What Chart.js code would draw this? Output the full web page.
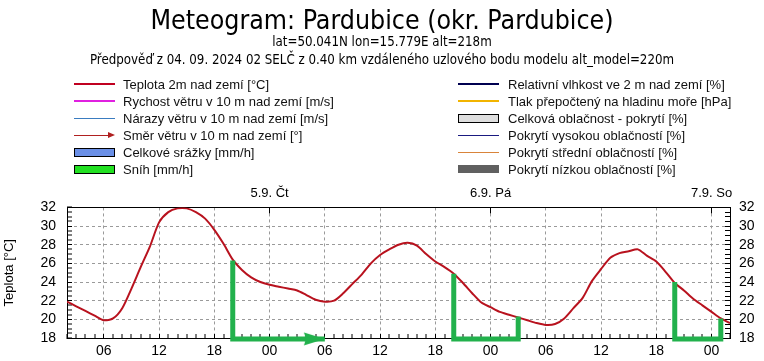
<!DOCTYPE html>
<html><head><meta charset="utf-8">
<script src="https://cdn.jsdelivr.net/npm/chart.js@4/dist/chart.umd.min.js"></script>
<style>
html,body{margin:0;padding:0;background:#fff;}
#wrap{position:relative;width:764px;height:361px;overflow:hidden;background:#fff;}
#c{position:absolute;left:0;top:0;}
.leg{position:absolute;font:13px 'Liberation Sans',Arial,sans-serif;color:#111;white-space:nowrap;height:17px;line-height:17px;}
.leg .s{position:absolute;left:0;top:0;width:41px;height:17px;}
.leg .t{position:absolute;top:0;}
</style></head>
<body><div id="wrap"><canvas id="c" width="764" height="361"></canvas><div id="legend"></div></div>
<script>
// ---- data ----
const startHour = 2; // first sample: 4.9. 02:00
const temperature = [
  21.9, 21.4, 20.9, 20.4, 19.9, 20.1, 21.2, 23.3, 25.6, 27.8,
  30.4, 31.5, 31.9, 31.9, 31.5, 30.8, 29.6, 28.1, 26.4, 25.3,
  24.5, 24.0, 23.7, 23.5, 23.3, 23.1, 22.6, 22.1, 21.9, 22.0,
  22.8, 23.8, 24.8, 26.0, 26.9, 27.5, 28.0, 28.2, 27.9, 27.0,
  26.2, 25.6, 24.9, 23.9, 22.8, 21.8, 21.3, 20.8, 20.5, 20.2,
  19.9, 19.6, 19.4, 19.5, 20.1, 21.2, 22.3, 24.1, 25.4, 26.6,
  27.1, 27.3, 27.5, 26.8, 26.2, 25.1, 23.9, 23.1, 22.2, 21.5,
  20.8, 20.1, 19.6
];
const dayLabels = ['5.9. Čt', '6.9. Pá', '7.9. So'];
const dayStartIndex = [22, 46, 70];
const yMin = 18, yMax = 32;
const yAxisTitle = 'Teplota [°C]';
const titleText = 'Meteogram: Pardubice (okr. Pardubice)';
const subtitleLines = ['lat=50.041N lon=15.779E alt=218m',
  'Předpověď z 04. 09. 2024 02 SELČ z 0.40 km vzdáleného uzlového bodu modelu alt_model=220m'];
// green hand-drawn marks (hour index, temperature)
const markArrow = [{x:18, y:26.3}, {x:18, y:17.9}, {x:28, y:17.9}];
const markBracket1 = [{x:42, y:24.9}, {x:42, y:17.9}, {x:49, y:17.9}, {x:49, y:20.3}];
const markBracket2 = [{x:66, y:24.0}, {x:66, y:17.9}, {x:71, y:17.9}, {x:71, y:20.1}];
const legendLeft = [
  {text:'Teplota 2m nad zemí [°C]', kind:'line', color:'#c00020', w:2.5},
  {text:'Rychost větru v 10 m nad zemí [m/s]', kind:'line', color:'#e020e0', w:2.5},
  {text:'Nárazy větru v 10 m nad zemí [m/s]', kind:'line', color:'#3a7cc0', w:1},
  {text:'Směr větru v 10 m nad zemí [°]', kind:'arrow', color:'#b02020', w:1},
  {text:'Celkové srážky [mm/h]', kind:'box', color:'#6a8fe6', border:'#000'},
  {text:'Sníh [mm/h]', kind:'box', color:'#22e022', border:'#000'}
];
const legendRight = [
  {text:'Relativní vlhkost ve 2 m nad zemí [%]', kind:'line', color:'#000050', w:2.5},
  {text:'Tlak přepočtený na hladinu moře [hPa]', kind:'line', color:'#f2b400', w:2.5},
  {text:'Celková oblačnost - pokrytí [%]', kind:'box', color:'#dedede', border:'#000'},
  {text:'Pokrytí vysokou oblačností [%]', kind:'line', color:'#1a1a80', w:1},
  {text:'Pokrytí střední oblačností [%]', kind:'line', color:'#d9843a', w:1},
  {text:'Pokrytí nízkou oblačností [%]', kind:'box', color:'#606060', border:null}
];

// ---- legend (HTML) ----
function buildLegend(items, x0, textX, y0, dy) {
  const root = document.getElementById('legend');
  items.forEach((it, i) => {
    const d = document.createElement('div');
    d.className = 'leg';
    d.style.left = x0 + 'px';
    d.style.top = (y0 + i * dy - 8.5) + 'px';
    const s = document.createElement('div');
    s.className = 's';
    const m = document.createElement('div');
    m.style.position = 'absolute';
    m.style.left = '0px';
    m.style.width = '41px';
    if (it.kind === 'line' || it.kind === 'arrow') {
      m.style.height = it.w + 'px';
      m.style.top = (8.5 - it.w / 2) + 'px';
      m.style.background = it.color;
      if (it.kind === 'arrow') {
        m.style.width = '36px';
        const h = document.createElement('div');
        h.style.cssText = 'position:absolute;left:34px;top:5.5px;width:0;height:0;border-top:3px solid transparent;border-bottom:3px solid transparent;border-left:7px solid ' + it.color + ';';
        s.appendChild(h);
      }
    } else {
      const bh = it.border ? 7 : 8;
      m.style.height = bh + 'px';
      m.style.top = (8.5 - bh / 2 - (it.border ? 1 : 0)) + 'px';
      m.style.background = it.color;
      if (it.border) { m.style.border = '1px solid ' + it.border; m.style.width = '39px'; }
    }
    s.appendChild(m);
    const t = document.createElement('span');
    t.className = 't';
    t.style.left = (textX - x0) + 'px';
    t.textContent = it.text;
    d.appendChild(s);
    d.appendChild(t);
    root.appendChild(d);
  });
}
buildLegend(legendLeft, 74, 123, 84, 17);
buildLegend(legendRight, 458, 508, 84, 17);

// ---- arrow head point style ----
function arrowHead(color) {
  const c = document.createElement('canvas');
  c.width = 48; c.height = 16;
  const g = c.getContext('2d');
  g.fillStyle = color;
  g.beginPath();
  g.moveTo(24, 8);
  g.lineTo(3, 1.5);
  g.quadraticCurveTo(6, 8, 3, 14.5);
  g.closePath();
  g.fill();
  return c;
}

const GREEN = '#22b14c';
const tickFont = {family:"'Liberation Sans', Arial, sans-serif", size:14};
const narrow = "'Liberation Sans Narrow', 'DejaVu Sans Condensed', 'Liberation Sans', sans-serif";
const gridGray = '#9a9a9a';
const isSixHour = v => ((startHour + v) % 6 === 0);
const pad2 = n => (n < 10 ? '0' : '') + n;
const noPad = s => { s.paddingTop = 0; s.paddingBottom = 0; s.paddingLeft = 0; s.paddingRight = 0; };

const greenDs = (data, extra) => Object.assign({
  data, borderColor: GREEN, backgroundColor: GREEN, borderWidth: 5, pointRadius: 0,
  tension: 0, clip: false, borderJoinStyle: 'miter', borderCapStyle: 'butt', order: 0
}, extra || {});

new Chart(document.getElementById('c'), {
  type: 'line',
  data: {
    datasets: [
      greenDs(markArrow, {pointRadius:[0,0,6], pointStyle: arrowHead(GREEN)}),
      greenDs(markBracket1),
      greenDs(markBracket2),
      {
        label: 'Teplota 2m nad zemí [°C]',
        data: temperature.map((v, i) => ({x: i, y: v})),
        borderColor: '#b8121e', borderWidth: 2, pointRadius: 0, tension: 0.25, order: 1
      }
    ]
  },
  options: {
    responsive: false, animation: false, devicePixelRatio: 1,
    layout: {padding: 0, autoPadding: false},
    plugins: {
      legend: {display: false}, tooltip: {enabled: false},
      title: {display: true, text: titleText, color: '#000',
        font: {family: narrow, size: 26.5, weight: 'normal', lineHeight: 0.85}, padding: {top: 11, bottom: 0}},
      subtitle: {display: true, text: subtitleLines, color: '#000',
        font: {family: narrow, size: 13.2, weight: 'normal', lineHeight: 1.36}, padding: {top: 0, bottom: 111}}
    },
    scales: {
      x: {
        type: 'linear', position: 'bottom', min: 0, max: 72,
        afterFit: s => { noPad(s); s.height = 23; },
        ticks: {stepSize: 1, autoSkip: false, maxRotation: 0, maxTicksLimit: 200, color: '#000', font: tickFont, padding: 8.5,
          callback: v => isSixHour(v) ? pad2((startHour + v) % 24) : ''},
        grid: {color: c => (c.tick && isSixHour(c.tick.value)) ? gridGray : 'rgba(0,0,0,0)',
          lineWidth: c => (c.tick && isSixHour(c.tick.value)) ? 1 : 0,
          tickColor: '#000', tickWidth: 1, tickLength: -4},
        border: {display: true, color: '#000', width: 1, dash: [3, 3]}
      },
      x2: {
        type: 'linear', position: 'top', min: 0, max: 72,
        afterFit: s => { noPad(s); s.height = 27; },
        afterBuildTicks: s => { s.ticks = dayStartIndex.map(v => ({value: v})); },
        ticks: {autoSkip: false, maxRotation: 0, color: '#000', font: {family: tickFont.family, size: 13}, padding: 12,
          callback: v => { const k = dayStartIndex.indexOf(v); return k >= 0 ? dayLabels[k] : ''; }},
        grid: {drawOnChartArea: false, color: '#000', tickColor: '#000', tickWidth: 1, tickLength: -6},
        border: {display: true, color: '#000', width: 1}
      },
      y: {
        type: 'linear', position: 'left', min: yMin, max: yMax,
        afterFit: s => { noPad(s); s.width = 67; },
        title: {display: true, text: yAxisTitle, color: '#000', font: {family: tickFont.family, size: 13}, padding: {top: 2, bottom: 0}},
        ticks: {stepSize: 0.5, autoSkip: false, maxTicksLimit: 200, color: '#000', font: tickFont, padding: 16,
          callback: v => (Number.isInteger(v) && v % 2 === 0) ? String(v) : ''},
        grid: {color: c => (c.tick && Number.isInteger(c.tick.value) && c.tick.value % 2 === 0 && c.tick.value > yMin && c.tick.value < yMax) ? gridGray : 'rgba(0,0,0,0)',
          lineWidth: c => (c.tick && Number.isInteger(c.tick.value) && c.tick.value % 2 === 0 && c.tick.value > yMin && c.tick.value < yMax) ? 1 : 0,
          tickColor: '#000', tickWidth: 1, tickLength: -5},
        border: {display: true, color: '#000', width: 1, dash: [3, 3]}
      },
      y2: {
        type: 'linear', position: 'right', min: yMin, max: yMax,
        afterFit: s => { noPad(s); s.width = 34; },
        ticks: {stepSize: 0.5, autoSkip: false, maxTicksLimit: 200, color: '#000', font: tickFont, padding: 14,
          callback: v => (Number.isInteger(v) && v % 2 === 0) ? String(v) : ''},
        grid: {drawOnChartArea: false, color: '#000', tickColor: '#000', tickWidth: 1, tickLength: -5},
        border: {display: true, color: '#000', width: 1}
      }
    }
  }
});
</script>
</body></html>
